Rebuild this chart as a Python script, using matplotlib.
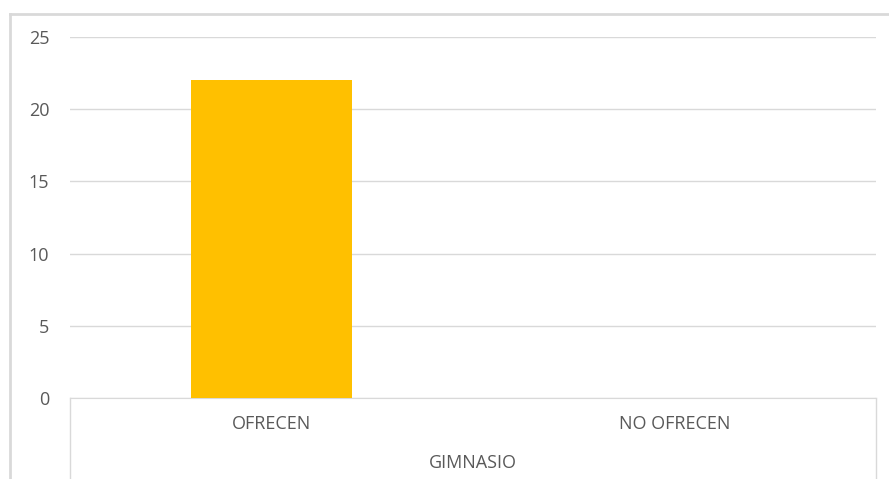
import matplotlib.pyplot as plt
from matplotlib.lines import Line2D

categories = ["OFRECEN", "NO OFRECEN"]
values = [22, 0]
group_label = "GIMNASIO"
yticks = [0, 5, 10, 15, 20, 25]

W, H = 889, 479
fig = plt.figure(figsize=(W / 100, H / 100), dpi=100)
plt.rcParams['font.family'] = ['Open Sans', 'DejaVu Sans']

# plot area in pixels
x0, x1 = 70, 876
y_top, y_bot = 37, 398
ax = fig.add_axes([x0 / W, 1 - y_bot / H, (x1 - x0) / W, (y_bot - y_top) / H])

grid_col = "#d9d9d9"
text_col = "#595959"

ax.bar(range(len(categories)), values, width=0.40, color="#ffc000", zorder=3)
ax.set_xlim(-0.5, len(categories) - 0.5)
ax.set_ylim(0, 25)
ax.set_yticks(yticks)
ax.set_yticklabels([str(t) for t in yticks], color=text_col, fontsize=13)
ax.yaxis.grid(True, color=grid_col, lw=1)
ax.set_axisbelow(True)
ax.tick_params(axis="y", length=0, pad=15)
ax.tick_params(axis="x", length=0, pad=12)
ax.set_xticks(range(len(categories)))
ax.set_xticklabels(categories, color=text_col, fontsize=13)
for s in ["top", "right", "left"]:
    ax.spines[s].set_visible(False)
ax.spines["bottom"].set_color(grid_col)

# group label and side dividers
fig.text((x0 + x1) / 2 / W, 1 - 463 / H, group_label, ha="center", va="center",
         color=text_col, fontsize=13)
for xp in (x0, x1):
    fig.add_artist(Line2D([xp / W, xp / W], [1 - y_bot / H, 0], color=grid_col, lw=1))

# chart border (top and left visible)
fig.add_artist(Line2D([10 / W, 1], [1 - 14 / H, 1 - 14 / H], color=grid_col, lw=2))
fig.add_artist(Line2D([10 / W, 10 / W], [1 - 14 / H, 0], color=grid_col, lw=2))

fig.savefig("out.png", dpi=100)
